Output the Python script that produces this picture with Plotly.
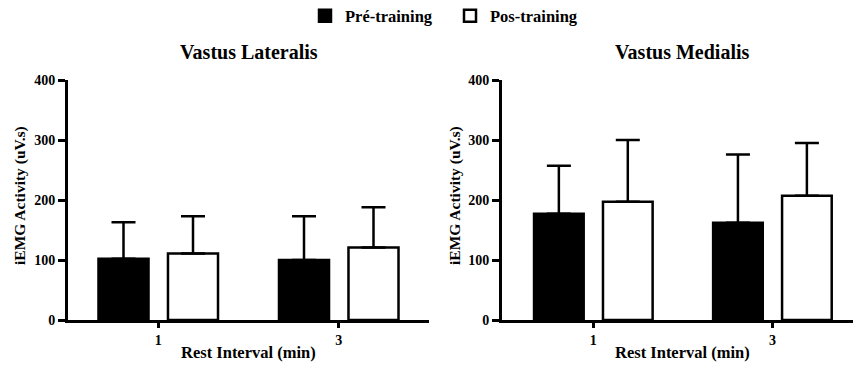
import plotly.graph_objects as go

categories = ["1", "3"]
series_names = ["Pré-training", "Pos-training"]
vl_pre = [102, 100]
vl_pre_err = [61, 73]
vl_pos = [111, 121]
vl_pos_err = [62, 67]
vm_pre = [177, 162]
vm_pre_err = [80, 114]
vm_pos = [197, 207]
vm_pos_err = [103, 88]
y_ticks = [0, 100, 200, 300, 400]
panel_titles = ["Vastus Lateralis", "Vastus Medialis"]
x_title = "Rest Interval (min)"
y_title = "iEMG Activity (uV.s)"

FONT = "'Liberation Serif', 'Times New Roman', Times, serif"
W, H = 853, 371
ML, MR, MT, MB = 68, 0, 80, 51
pw = W - ML - MR
xpos = [0, 1]

fig = go.Figure()

def add_panel(pre, pre_err, pos, pos_err, xa, ya, show):
    for vals, errs, fill, name in [(pre, pre_err, "black", series_names[0]),
                                    (pos, pos_err, "white", series_names[1])]:
        fig.add_trace(go.Bar(
            x=xpos, y=vals, name=name, showlegend=show, legendgroup=name,
            marker=dict(color=fill, line=dict(color="black", width=2.5)),
            error_y=dict(type="data", array=errs, symmetric=False,
                         arrayminus=[0] * len(errs), color="black",
                         thickness=2.5, width=12),
            xaxis=xa, yaxis=ya))

add_panel(vl_pre, vl_pre_err, vl_pos, vl_pos_err, "x", "y", True)
add_panel(vm_pre, vm_pre_err, vm_pos, vm_pos_err, "x2", "y2", False)

tickfont = dict(family=FONT, size=14, color="black", weight="bold")
xcommon = dict(tickvals=xpos, ticktext=categories, showline=True, linecolor="black",
               linewidth=3, ticks="outside", ticklen=5, tickwidth=2.5, tickcolor="black",
               tickfont=tickfont, showgrid=False, zeroline=False, automargin=False)
ycommon = dict(range=[0, 400], tickvals=y_ticks, showline=True, linecolor="black",
               linewidth=3, ticks="outside", ticklen=7, tickwidth=2.5, tickcolor="black",
               tickfont=tickfont, showgrid=False, zeroline=False, automargin=False)

left_end = (429 - ML) / pw
right_start = (502 - ML) / pw

fig.update_layout(
    width=W, height=H,
    margin=dict(l=ML, r=MR, t=MT, b=MB, autoexpand=False),
    paper_bgcolor="white", plot_bgcolor="white",
    barmode="group", bargap=0.23, bargroupgap=0.28,
    xaxis=dict(domain=[0, left_end], range=[-0.5, 1.5], anchor="y", **xcommon),
    yaxis=dict(domain=[0, 1], anchor="x", **ycommon),
    xaxis2=dict(domain=[right_start, 1], range=[-0.51, 1.45], anchor="y2", **xcommon),
    yaxis2=dict(domain=[0, 1], anchor="x2", **ycommon),
    legend=dict(orientation="h", x=(305 - ML) / pw, xanchor="left",
                y=(H - MB - 16) / (H - MT - MB), yanchor="middle",
                font=dict(family=FONT, size=16.5, color="black", weight="bold"),
                itemwidth=30, entrywidth=100, entrywidthmode="pixels",
                traceorder="normal"),
    showlegend=True,
)

ph = H - MT - MB
def py(pix):
    return (H - MB - pix) / ph
def px(pix):
    return (pix - ML) / pw

annos = []
for i, (xa, t) in enumerate([("x", panel_titles[0]), ("x2", panel_titles[1])]):
    annos.append(dict(text=t, x=0.5, xref=xa, y=py(52), yref="paper", showarrow=False,
                      xanchor="center", yanchor="middle",
                      font=dict(family=FONT, size=20, color="black", weight="bold")))
    annos.append(dict(text=x_title, x=0.5, xref=xa, y=py(352), yref="paper", showarrow=False,
                      xanchor="center", yanchor="middle",
                      font=dict(family=FONT, size=16.5, color="black", weight="bold")))
for xc in [20, 455]:
    annos.append(dict(text=y_title, x=px(xc), xref="paper", y=py(196), yref="paper",
                      showarrow=False, textangle=-90, xanchor="center", yanchor="middle",
                      font=dict(family=FONT, size=15.5, color="black", weight="bold")))
fig.update_layout(annotations=annos)

fig.write_html("out.html", config={"displayModeBar": False},
               post_script="document.body.style.margin='0';")
